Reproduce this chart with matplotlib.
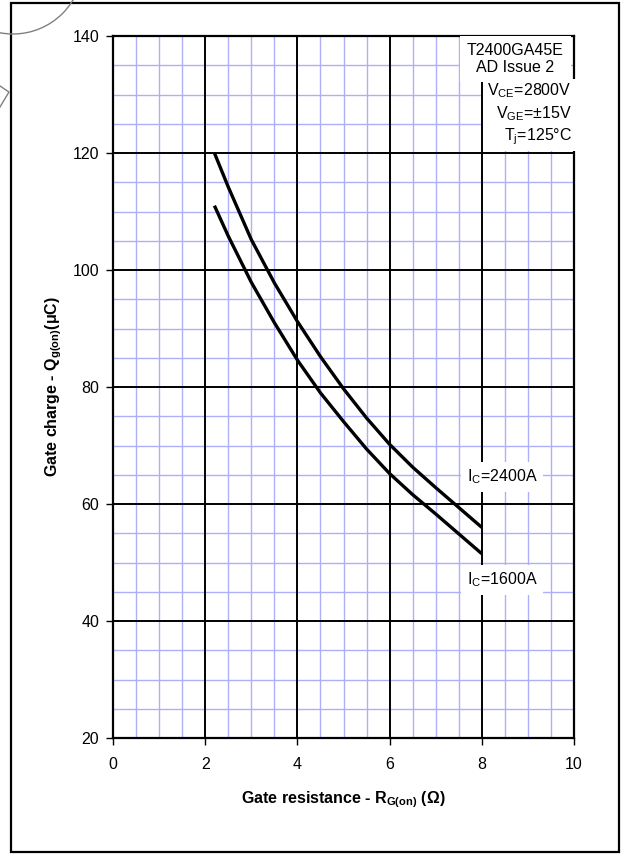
import matplotlib
matplotlib.use("Agg")
from matplotlib import pyplot as plt
from matplotlib.patches import Rectangle, Circle
from matplotlib.lines import Line2D
import numpy as np

plt.rcParams['font.family'] = ['Liberation Sans', 'DejaVu Sans']
plt.rcParams['mathtext.fontset'] = 'custom'
plt.rcParams['mathtext.rm'] = 'Liberation Sans'
plt.rcParams['mathtext.bf'] = 'Liberation Sans:bold'

rg = [2.2, 2.5, 3.0, 3.5, 4.0, 4.5, 5.0, 5.5, 6.0, 6.5, 7.0, 7.5, 8.0]
qg_2400 = [120.0, 114.2, 105.2, 97.8, 91.2, 85.2, 79.7, 74.7, 70.2, 66.3, 62.8, 59.4, 56.0]
qg_1600 = [111.0, 105.8, 97.9, 91.0, 84.6, 79.0, 74.1, 69.4, 65.2, 61.6, 58.3, 54.9, 51.5]

x_ticks = [0, 2, 4, 6, 8, 10]
y_ticks = [20, 40, 60, 80, 100, 120, 140]

W, H = 625, 856
fig = plt.figure(figsize=(W / 100, H / 100), dpi=100)

def fx(px):
    return px / W

def fy(py):
    return 1 - py / H

ax = fig.add_axes([fx(113), fy(738), fx(574) - fx(113), fy(36) - fy(738)])

# grid: light blue minor, black major
for v in np.arange(0.5, 10, 0.5):
    if v % 2:
        ax.axvline(v, color='#aeaefa', lw=1.0, zorder=1)
for v in np.arange(25, 140, 5):
    if v % 20:
        ax.axhline(v, color='#aeaefa', lw=1.0, zorder=1)
for v in x_ticks[1:-1]:
    ax.axvline(v, color='black', lw=1.4, zorder=2)
for v in y_ticks[1:-1]:
    ax.axhline(v, color='black', lw=1.4, zorder=2)

ax.plot(rg, qg_2400, color='black', lw=2.4, zorder=4, solid_capstyle='butt')
ax.plot(rg, qg_1600, color='black', lw=2.4, zorder=4, solid_capstyle='butt')

ax.set_xlim(0, 10)
ax.set_ylim(20, 140)
ax.set_xticks(x_ticks)
ax.set_yticks(y_ticks)
ax.tick_params(direction='out', length=5, width=1, labelsize=11.5,
               top=False, right=False)
ax.tick_params(axis='x', pad=9)
ax.tick_params(axis='y', pad=5)
for s in ax.spines.values():
    s.set_linewidth(1.6)
    s.set_zorder(5)

ax.set_xlabel(r'Gate resistance - $\mathregular{R_{G(on)}}$ ($\mathregular{\Omega}$)',
              fontsize=11.5, fontweight='bold', labelpad=12)
ax.set_ylabel(r'Gate charge - $\mathregular{Q_{g(on)}}$($\mathregular{\mu}$C)',
              fontsize=11.5, fontweight='bold', labelpad=6)

box = dict(facecolor='white', edgecolor='none', pad=4)
ax.text(8.44, 64.6, r'$\mathregular{I_C}$=2400A', fontsize=11.5, ha='center', va='center',
        bbox=box, zorder=6)
ax.text(8.44, 47.0, r'$\mathregular{I_C}$=1600A', fontsize=11.5, ha='center', va='center',
        bbox=box, zorder=6)

ax.text(0.873, 0.99, 'T2400GA45E\nAD Issue 2', transform=ax.transAxes, fontsize=11.5,
        ha='center', va='top', linespacing=1.2,
        bbox=dict(facecolor='white', edgecolor='none', pad=5), zorder=6)
ax.text(0.995, 0.935,
        r'$\mathregular{V_{CE}}$=2800V' '\n' r'$\mathregular{V_{GE}}$=±15V' '\n' r'$\mathregular{T_j}$=125°C',
        transform=ax.transAxes, fontsize=11.5, ha='right', va='top', linespacing=1.25,
        multialignment='right',
        bbox=dict(facecolor='white', edgecolor='none', pad=3), zorder=6)

# outer frame and stray marks from the page
fig.add_artist(Rectangle((fx(11), fy(852)), fx(619) - fx(11), fy(3) - fy(852),
                         transform=fig.transFigure, fill=False, edgecolor='black', lw=1.6))
fig.add_artist(Circle((0.13, (H + 36) / 100), 0.70, transform=fig.dpi_scale_trans,
                      fill=False, edgecolor='#808080', lw=1.0))
fig.add_artist(Line2D([fx(0), fx(9), fx(0)], [fy(86), fy(92), fy(107)],
                      transform=fig.transFigure, color='#808080', lw=1.0))

fig.savefig('out.png', dpi=100)
